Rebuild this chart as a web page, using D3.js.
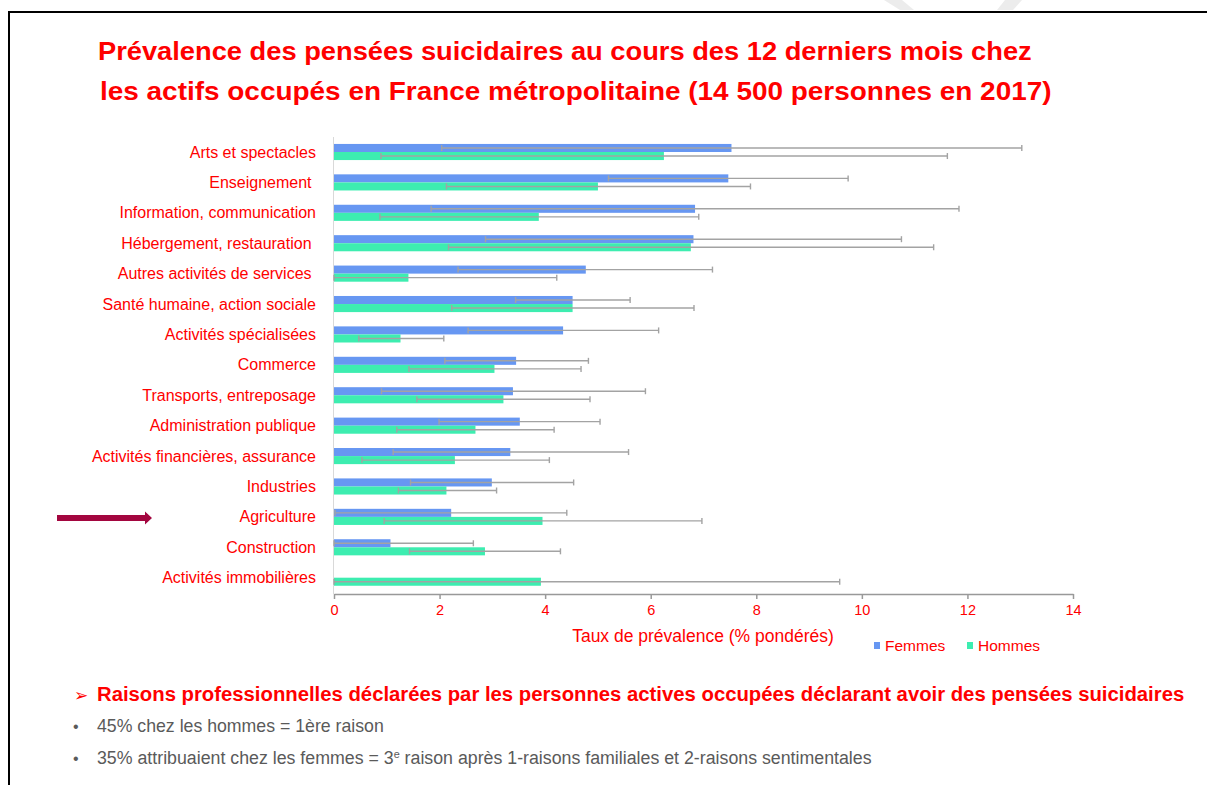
<!DOCTYPE html>
<html>
<head>
<meta charset="utf-8">
<script src="https://cdn.jsdelivr.net/npm/d3@7"></script>
<style>
  body { margin: 0; background: #fff; }
  svg { display: block; }
  .cat-label { white-space: pre; }
</style>
</head>
<body>
<div id="chart"></div>
<script>
// Categories (top to bottom) and values (% pondérés)
const categories = [
    "Arts et spectacles",
    "Enseignement ",
    "Information, communication",
    "Hébergement, restauration ",
    "Autres activités de services ",
    "Santé humaine, action sociale",
    "Activités spécialisées",
    "Commerce",
    "Transports, entreposage",
    "Administration publique",
    "Activités financières, assurance",
    "Industries",
    "Agriculture",
    "Construction",
    "Activités immobilières"
];

const femmes =      [7.53, 7.47, 6.84, 6.81, 4.77, 4.52, 4.34, 3.45, 3.39, 3.52, 3.34, 2.99, 2.22, 1.07, null];
const femmesLow =   [2.04, 5.20, 1.84, 2.87, 2.35, 3.44, 2.54, 2.10, 0.90, 1.99, 1.12, 1.45, 0.02, 0.00, null];
const femmesHigh =  [13.03, 9.74, 11.84, 10.75, 7.17, 5.61, 6.15, 4.82, 5.90, 5.04, 5.58, 4.54, 4.41, 2.64, null];

const hommes =      [6.25, 5.00, 3.88, 6.76, 1.41, 4.52, 1.26, 3.04, 3.21, 2.68, 2.29, 2.13, 3.95, 2.86, 3.92];
const hommesLow =   [0.89, 2.13, 0.87, 2.17, 0.00, 2.23, 0.47, 1.42, 1.57, 1.19, 0.53, 1.22, 0.95, 1.43, 0.00];
const hommesHigh =  [11.62, 7.89, 6.91, 11.36, 4.22, 6.82, 2.08, 4.68, 4.85, 4.17, 4.08, 3.08, 6.97, 4.29, 9.58];

const xTicks = [0, 2, 4, 6, 8, 10, 12, 14];
const seriesNames = ["Femmes", "Hommes"];
const seriesColors = ["#6797f2", "#3dedb0"];

const titleLines = [
    "Prévalence des pensées suicidaires au cours des 12 derniers mois chez",
    "les actifs occupés en France métropolitaine (14 500 personnes en 2017)"
];
const highlighted = "Agriculture";

const width = 1207;
const height = 785;
const red = "#ff0000";

const svg = d3.select("#chart")
    .append("svg")
    .attr("width", width)
    .attr("height", height)
    .style("font-family", "'Liberation Sans', Arial, sans-serif");

// squeeze/stretch a text horizontally so it spans the given width from x0
function fitWidth(sel, x0, w) {
    const natural = sel.node().getComputedTextLength();
    sel.attr("transform", `translate(${x0}, 0) scale(${w / natural}, 1) translate(${-x0}, 0)`);
}

// slide frame
svg.append("line").attr("x1", 9).attr("x2", width).attr("y1", 12).attr("y2", 12)
    .attr("stroke", "#000").attr("stroke-width", 2);
svg.append("line").attr("x1", 9).attr("x2", 9).attr("y1", 11).attr("y2", height)
    .attr("stroke", "#000").attr("stroke-width", 2);

// faint watermark marks at the top
svg.append("path").attr("d", "M884,0 L902,0 L914,10 L900,10 Z").attr("fill", "#ececec");
svg.append("path").attr("d", "M1005,0 L1022,0 L1013,10 L997,10 Z").attr("fill", "#ececec");

// Title
svg.selectAll("text.title")
    .data(titleLines)
    .enter()
    .append("text")
    .attr("class", "title")
    .attr("x", (d, i) => i === 0 ? 98 : 100)
    .attr("y", (d, i) => 60 + i * 40)
    .attr("font-size", "25px")
    .attr("font-weight", "bold")
    .attr("fill", red)
    .text(d => d)
    .each(function(d, i) {
        fitWidth(d3.select(this), i === 0 ? 98 : 100, i === 0 ? 934 : 952);
    });

// Scales
const x = d3.scaleLinear().domain([0, 14]).range([334, 1073]);

const y0 = d3.scaleBand()
    .domain(categories)
    .range([136.8, 592.9])
    .paddingInner(0.47)
    .paddingOuter(0.235);

const y1 = d3.scaleBand()
    .domain(seriesNames)
    .range([0, y0.bandwidth()]);

const color = d3.scaleOrdinal().domain(seriesNames).range(seriesColors);

// left axis line
svg.append("line")
    .attr("x1", x(0) - 0.5).attr("x2", x(0) - 0.5)
    .attr("y1", 137).attr("y2", 594)
    .attr("stroke", "#d9d9d9").attr("stroke-width", 1);

// rows
const rows = categories.map((c, i) => ({
    cat: c,
    values: [
        { s: "Femmes", v: femmes[i], lo: femmesLow[i], hi: femmesHigh[i] },
        { s: "Hommes", v: hommes[i], lo: hommesLow[i], hi: hommesHigh[i] }
    ].filter(d => d.v !== null)
}));

const rowG = svg.selectAll("g.row")
    .data(rows)
    .enter()
    .append("g")
    .attr("class", "row")
    .attr("transform", d => `translate(0, ${y0(d.cat)})`);

rowG.selectAll("rect")
    .data(d => d.values)
    .enter()
    .append("rect")
    .attr("x", x(0))
    .attr("y", d => y1(d.s))
    .attr("width", d => x(d.v) - x(0))
    .attr("height", y1.bandwidth())
    .attr("fill", d => color(d.s));

// error bars
const err = rowG.selectAll("g.err")
    .data(d => d.values)
    .enter()
    .append("g")
    .attr("class", "err")
    .attr("stroke", "#a3a3a3")
    .attr("stroke-width", 1.4);

err.append("line")
    .attr("x1", d => x(d.lo))
    .attr("x2", d => x(d.hi))
    .attr("y1", d => y1(d.s) + y1.bandwidth() / 2)
    .attr("y2", d => y1(d.s) + y1.bandwidth() / 2);

err.selectAll("line.cap")
    .data(d => [{ s: d.s, v: d.lo }, { s: d.s, v: d.hi }])
    .enter()
    .append("line")
    .attr("class", "cap")
    .attr("x1", d => x(d.v))
    .attr("x2", d => x(d.v))
    .attr("y1", d => y1(d.s) + y1.bandwidth() / 2 - 3)
    .attr("y2", d => y1(d.s) + y1.bandwidth() / 2 + 3);

// category labels
svg.selectAll("text.cat-label")
    .data(categories)
    .enter()
    .append("text")
    .attr("class", "cat-label")
    .attr("x", 316)
    .attr("y", d => y0(d) + y0.bandwidth() / 2)
    .attr("dy", "0.35em")
    .attr("text-anchor", "end")
    .attr("font-size", "16px")
    .attr("fill", red)
    .text(d => d);

// x axis
const xAxis = svg.append("g")
    .attr("transform", "translate(0, 594)")
    .call(d3.axisBottom(x).tickValues(xTicks).tickSize(5).tickSizeOuter(0).tickPadding(6));

xAxis.select(".domain").attr("stroke", "#999").attr("stroke-width", 1.5);
xAxis.selectAll(".tick line").attr("stroke", "#999").attr("stroke-width", 1.5);
xAxis.selectAll(".tick text")
    .attr("fill", red)
    .attr("font-size", "14.5px")
    .attr("font-family", "'Liberation Sans', Arial, sans-serif");

// axis title
svg.append("text")
    .attr("x", 703)
    .attr("y", 642)
    .attr("text-anchor", "middle")
    .attr("font-size", "17.5px")
    .attr("fill", red)
    .text("Taux de prévalence (% pondérés)");

// legend
const legend = svg.selectAll("g.legend")
    .data(seriesNames)
    .enter()
    .append("g")
    .attr("class", "legend")
    .attr("transform", (d, i) => `translate(${874 + i * 93}, 645)`);

legend.append("rect")
    .attr("x", 0).attr("y", -3)
    .attr("width", 6).attr("height", 7)
    .attr("fill", d => color(d));

legend.append("text")
    .attr("x", 11)
    .attr("dy", "0.36em")
    .attr("font-size", "15.5px")
    .attr("fill", red)
    .text(d => d);

// highlight arrow pointing at Agriculture
const ay = y0(highlighted) + y0.bandwidth() / 2 + 1;
svg.append("path")
    .attr("d", `M57,${ay - 3} L145,${ay - 3} L145,${ay - 6.5} L152,${ay} L145,${ay + 6.5} L145,${ay + 3} L57,${ay + 3} Z`)
    .attr("fill", "#a3063f");

// bottom notes
svg.append("text")
    .attr("x", 74)
    .attr("y", 701)
    .attr("font-size", "17px")
    .attr("font-family", "'DejaVu Sans', sans-serif")
    .attr("fill", red)
    .text("➢");

const note0 = svg.append("text")
    .attr("x", 97)
    .attr("y", 701)
    .attr("font-size", "21px")
    .attr("font-weight", "bold")
    .attr("fill", red)
    .text("Raisons professionnelles déclarées par les personnes actives occupées déclarant avoir des pensées suicidaires");
fitWidth(note0, 97, 1088);

const grey = "#5a5a5a";
[732, 764].forEach(yy => {
    svg.append("text")
        .attr("x", 73).attr("y", yy)
        .attr("font-size", "16px")
        .attr("fill", grey)
        .text("•");
});

const note1 = svg.append("text")
    .attr("x", 97)
    .attr("y", 732)
    .attr("font-size", "18px")
    .attr("fill", grey)
    .text("45% chez les hommes = 1ère raison");
fitWidth(note1, 97, 287);

const note2 = svg.append("text")
    .attr("x", 97)
    .attr("y", 764)
    .attr("font-size", "18px")
    .attr("fill", grey);
note2.append("tspan").text("35% attribuaient chez les femmes = 3");
note2.append("tspan").attr("dy", -6).attr("font-size", "11px").text("e");
note2.append("tspan").attr("dy", 6).text(" raison après 1-raisons familiales et 2-raisons sentimentales");
fitWidth(note2, 97, 775);
</script>
</body>
</html>
